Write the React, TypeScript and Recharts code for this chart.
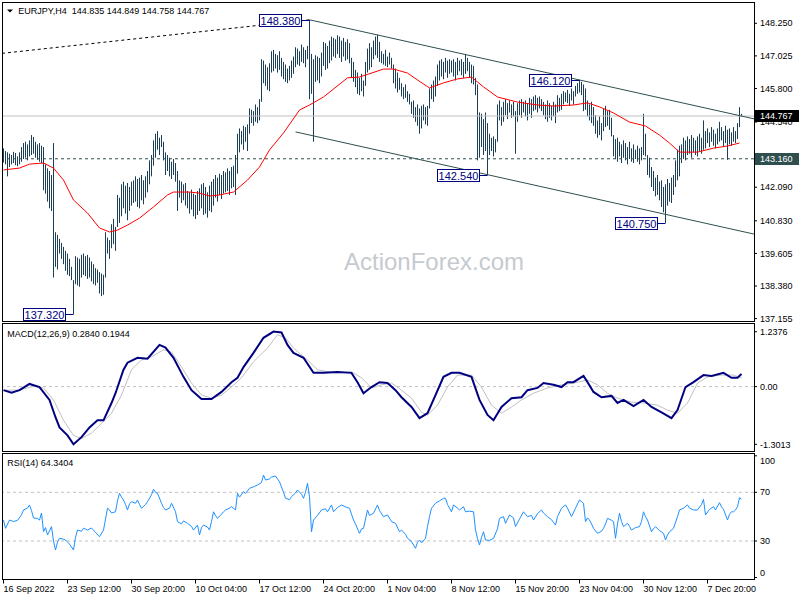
import { Bar, ComposedChart, Line, ReferenceDot, ReferenceLine, XAxis, YAxis } from 'recharts';

const FONT = '"Liberation Sans", Arial, sans-serif';

// H4 bars, index 0 = 16 Sep 2022 04:00
const barHigh = [
  143.55, 143.45, 143.4, 143.35, 143.3, 143.42, 143.38, 143.25, 143.4, 143.6,
  143.75, 143.8, 143.7, 143.85, 144.05, 143.98, 143.8, 143.7, 143.75, 143.65,
  143.6, 142.95, 142.8, 142.7, 142.55, 143.75, 140.4, 140.3, 140.15, 140.0,
  139.85, 139.7, 139.6, 139.4, 139.1, 138.6, 139.5, 139.45, 139.4, 139.55,
  139.6, 139.5, 139.55, 139.45, 139.3, 139.2, 139.05, 139.0, 138.9, 138.85,
  138.8, 140.4, 140.2, 140.1, 140.7, 140.9, 140.6, 141.8, 141.7, 142.2,
  142.3, 142.15, 142.25, 142.1, 142.3, 142.35, 142.5, 142.4, 142.45, 142.55,
  142.35, 142.5, 142.7, 143.1, 143.3, 143.85, 144.1, 144.2, 143.95, 144.05,
  143.8, 143.4, 143.3, 143.2, 143.05, 143.15, 143.0, 142.7, 142.35, 142.3,
  142.2, 142.25, 141.95, 141.9, 142.0, 141.85, 141.8, 141.95, 142.05, 142.2,
  142.25, 142.1, 141.9, 142.15, 142.3, 142.4, 142.55, 142.45, 142.6, 142.55,
  142.7, 142.65, 142.8, 142.7, 142.85, 142.9, 143.3, 144.1, 144.3, 144.2,
  144.4, 144.35, 144.45, 145.05, 145.0, 144.95, 145.2, 145.1, 145.4, 146.9,
  146.85, 146.7, 146.6, 146.75, 147.2, 147.25, 147.1, 147.05, 147.2, 146.95,
  146.8, 146.7, 146.55, 146.65, 146.85, 147.0, 147.35, 147.3, 147.2, 147.45,
  147.35, 147.25, 147.4, 148.38, 147.1, 146.9, 147.05, 147.0, 146.95, 147.15,
  147.55, 147.5, 147.4, 147.6, 147.75, 147.7, 147.65, 147.8, 147.75, 147.6,
  147.7, 147.55, 147.65, 147.5, 146.95, 146.8, 146.5, 146.4, 146.2, 146.35,
  146.1, 146.8, 147.3, 147.5, 147.35, 147.6, 147.75, 147.82, 147.55, 147.2,
  147.1, 147.25, 147.0, 147.15, 146.95, 146.7, 146.55, 146.4, 146.2, 146.0,
  145.85, 145.95, 145.7, 145.6, 145.3, 145.35, 145.1, 145.2, 145.05, 145.15,
  145.2, 145.1, 145.15, 145.8, 145.95, 146.1, 146.25, 146.7, 146.85, 146.9,
  146.8, 146.95, 146.85, 146.9, 146.85, 146.9, 146.8, 146.95, 146.85, 146.9,
  146.8, 147.1, 146.95, 146.8, 146.7, 146.65, 146.2, 145.95, 144.9, 144.85,
  144.65, 144.9, 144.5, 144.1, 143.95, 144.0, 143.9, 145.2, 145.35, 145.1,
  145.3, 145.4, 145.25, 145.35, 145.2, 145.3, 144.95, 145.25, 145.35, 145.4,
  145.3, 145.35, 145.25, 145.45, 145.4, 145.5, 145.55, 145.45, 145.5, 145.4,
  145.3, 145.2, 145.35, 145.25, 145.15, 145.3, 145.2, 145.55, 145.45, 145.6,
  145.7, 145.65, 145.75, 145.6, 145.8, 145.7, 145.9, 146.0, 146.12, 146.05,
  145.95, 145.8, 145.35, 145.2, 145.3, 145.1, 144.8, 144.6, 144.75, 144.5,
  145.05, 145.15, 144.95, 145.0, 144.7, 144.05, 143.9, 143.95, 143.8, 143.7,
  143.85, 143.75, 143.6, 143.8, 143.55, 143.7, 143.5, 143.65, 143.55, 143.6,
  144.85, 144.1, 143.3, 143.2, 142.85, 142.7, 142.45, 142.55, 142.3, 142.35,
  142.1, 142.2, 142.4, 142.25, 142.45, 142.55, 143.1, 143.5, 143.65, 143.7,
  143.95, 143.85, 144.0, 143.9, 144.05, 143.95, 143.85, 144.0, 144.1, 143.95,
  144.6, 144.2, 144.3, 144.15, 144.35, 144.25, 144.1, 144.3, 144.55, 144.35,
  144.2, 144.4, 144.25, 144.3, 144.15, 144.35, 144.2, 144.5, 145.1, 144.849,
];

const barLow = [
  143.02, 142.95, 142.5, 142.85, 142.95, 143.0, 142.92, 142.88, 142.95, 143.05,
  143.15, 143.2, 143.1, 143.25, 143.3, 143.35, 143.2, 143.12, 143.05, 143.0,
  141.98, 141.85, 141.55, 141.3, 141.2, 138.7, 139.1, 139.0, 139.6, 139.4,
  139.2, 138.95, 138.8, 138.75, 138.6, 137.32, 138.45, 138.4, 138.35, 138.7,
  138.8, 138.75, 138.65, 138.7, 138.55, 138.45, 138.4, 138.5, 138.1, 138.0,
  138.05, 138.7, 139.6, 139.4, 139.8, 139.95, 139.7, 140.6, 140.75, 141.0,
  141.3, 141.1, 140.85, 141.2, 141.4, 141.5, 141.55, 141.35, 141.3, 141.6,
  141.45, 141.7, 141.9, 142.2, 142.5, 142.9, 143.2, 143.5, 143.3, 143.6,
  143.1, 142.55, 142.7, 142.5, 142.4, 142.55, 142.3, 141.2, 141.7, 141.5,
  141.6, 141.4, 141.3, 141.1, 141.25, 141.0, 140.9, 141.05, 141.2, 141.3,
  141.05, 141.1, 140.95, 141.2, 141.15, 141.4, 141.7, 141.55, 141.8, 141.65,
  141.85, 141.9, 141.95, 141.8, 142.05, 142.1, 141.8, 142.6, 143.4, 143.7,
  143.5, 143.8, 143.45, 144.1, 144.5, 144.4, 144.55, 144.5, 144.6, 145.3,
  146.0, 145.9, 145.75, 145.7, 146.4, 146.45, 146.55, 146.4, 146.5, 146.25,
  146.15, 146.05, 146.0, 146.1, 146.2, 146.35, 146.6, 146.7, 146.65, 146.8,
  146.75, 146.6, 146.9, 145.4, 145.6, 143.8, 146.05, 146.1, 146.0, 146.25,
  146.65, 146.5, 146.55, 146.75, 146.85, 147.0, 146.95, 147.1, 146.95, 146.8,
  147.0, 146.85, 146.9, 146.75, 146.2, 146.05, 145.85, 145.6, 145.55, 145.7,
  145.5, 145.9, 146.4, 146.5, 146.6, 146.9, 147.05, 146.95, 146.8, 146.75,
  146.7, 146.65, 146.6, 146.7, 146.55, 146.0, 145.8, 145.65, 145.75, 145.5,
  145.4, 145.45, 145.3, 145.2, 144.85, 144.7, 144.55, 144.4, 144.1, 144.3,
  144.6, 144.45, 144.4, 145.05, 145.4, 145.3, 145.5, 145.9, 146.1, 146.25,
  146.15, 146.4, 146.2, 146.35, 146.4, 146.25, 146.1, 146.3, 146.45, 146.3,
  146.2, 146.35, 146.45, 146.2, 146.0, 145.95, 145.55, 143.1, 143.2, 143.6,
  143.3, 143.45, 142.54, 143.3, 143.45, 143.25, 143.4, 143.8, 144.6, 144.4,
  144.55, 144.8, 144.65, 144.9, 144.7, 144.75, 143.35, 144.55, 144.8, 144.7,
  144.9, 144.75, 144.6, 144.85, 144.7, 144.95, 145.0, 144.9, 145.05, 144.95,
  144.8, 144.65, 144.55, 144.7, 144.6, 144.75, 144.5, 144.9, 144.95, 145.0,
  145.2, 145.3, 145.25, 145.15, 145.35, 145.2, 145.5, 145.6, 145.65, 145.55,
  144.95, 145.0, 144.75, 144.6, 144.5, 144.4, 144.1, 143.95, 144.05, 143.85,
  144.2, 144.35, 144.4, 144.25, 144.0, 143.25, 143.15, 143.05, 143.25, 143.0,
  143.2, 143.1, 142.95, 143.15, 143.05, 143.0, 143.15, 143.05, 142.95, 143.1,
  143.3, 143.25, 142.55, 142.45, 142.1, 141.95, 141.75, 141.8, 141.6, 141.35,
  141.15, 140.75, 141.4, 141.55, 141.5, 141.8, 142.1, 142.35, 142.5, 143.0,
  143.15, 143.1, 143.3, 143.35, 143.2, 143.4, 143.3, 143.25, 143.45, 143.35,
  143.5, 143.55, 143.75, 143.6, 143.8, 143.65, 143.55, 143.7, 143.8, 143.85,
  143.6, 143.75, 143.12, 143.7, 143.65, 143.8, 143.75, 143.9, 144.35, 144.758,
];

// [bar, value] pairs
const maPoints: [number, number][] = [
  [0, 142.74], [8, 142.81], [13, 142.96], [20, 143.0], [25, 142.81], [30, 142.36], [35, 141.61],
  [42, 141.12], [48, 140.56], [53, 140.41], [57, 140.48], [62, 140.67], [68, 140.93], [75, 141.35],
  [82, 141.8], [85, 141.91], [93, 141.91], [98, 141.87], [103, 141.76], [108, 141.8], [115, 141.91],
  [122, 142.36], [128, 142.85], [133, 143.49], [140, 144.13], [148, 144.99], [153, 145.18],
  [160, 145.48], [172, 146.2], [178, 146.23], [190, 146.53], [195, 146.53], [202, 146.38],
  [207, 146.12], [213, 145.82], [220, 146.01], [227, 146.16], [234, 146.23], [240, 145.86],
  [247, 145.48], [257, 145.29], [267, 145.18], [275, 145.14], [285, 145.18], [292, 145.26],
  [298, 145.11], [305, 144.88], [313, 144.54], [321, 144.39], [328, 144.05], [333, 143.75],
  [338, 143.41], [347, 143.41], [355, 143.56], [362, 143.64], [368, 143.75],
];

const macdPoints: [number, number][] = [
  [0, -0.08], [4, -0.14], [8, -0.08], [13, 0.06], [18, -0.01], [23, -0.3], [26, -0.69], [28, -0.92],
  [32, -1.1], [35, -1.3], [39, -1.14], [43, -0.92], [47, -0.76], [50, -0.76], [54, -0.37], [56, -0.15],
  [60, 0.38], [62, 0.54], [67, 0.65], [72, 0.63], [78, 0.94], [81, 0.88], [85, 0.65], [90, 0.22],
  [94, -0.08], [99, -0.28], [104, -0.28], [109, -0.12], [114, 0.1], [117, 0.2], [120, 0.44],
  [125, 0.76], [130, 1.1], [135, 1.24], [139, 1.22], [142, 0.94], [145, 0.76], [150, 0.65],
  [155, 0.31], [160, 0.31], [167, 0.33], [174, 0.31], [177, 0.1], [180, -0.15], [184, -0.01],
  [188, 0.1], [192, 0.08], [196, -0.08], [199, -0.24], [204, -0.46], [208, -0.71], [212, -0.6],
  [216, -0.19], [220, 0.22], [224, 0.31], [228, 0.31], [234, 0.22], [238, -0.3], [242, -0.64],
  [245, -0.76], [249, -0.46], [254, -0.26], [259, -0.24], [262, -0.08], [267, -0.03], [270, 0.08],
  [275, 0.04], [279, -0.01], [282, 0.1], [285, 0.1], [290, 0.24], [292, 0.1], [295, -0.12],
  [299, -0.24], [304, -0.21], [307, -0.37], [310, -0.3], [315, -0.44], [320, -0.3], [324, -0.46],
  [329, -0.58], [334, -0.71], [337, -0.53], [341, -0.01], [345, 0.1], [350, 0.26], [354, 0.24],
  [360, 0.31], [364, 0.2], [367, 0.2], [369, 0.284],
];

const signalPoints: [number, number][] = [
  [0, -0.08], [8, -0.08], [15, 0.01], [20, -0.03], [25, -0.3], [30, -0.76], [35, -1.1], [39, -1.17],
  [44, -1.05], [49, -0.83], [54, -0.6], [59, -0.19], [64, 0.38], [69, 0.6], [74, 0.67], [80, 0.83],
  [84, 0.78], [89, 0.44], [94, 0.08], [99, -0.19], [104, -0.26], [109, -0.19], [114, -0.01],
  [119, 0.2], [125, 0.56], [132, 0.87], [137, 1.17], [141, 1.1], [145, 0.87], [152, 0.6],
  [157, 0.38], [165, 0.31], [174, 0.33], [179, 0.2], [184, -0.03], [189, 0.04], [194, 0.08],
  [199, -0.08], [204, -0.26], [209, -0.58], [212, -0.64], [217, -0.42], [222, -0.01], [227, 0.26],
  [234, 0.26], [239, -0.01], [244, -0.42], [249, -0.6], [254, -0.46], [259, -0.3], [265, -0.15],
  [272, -0.03], [279, 0.04], [285, 0.08], [292, 0.15], [297, 0.04], [302, -0.15], [307, -0.26],
  [314, -0.35], [320, -0.37], [327, -0.42], [332, -0.53], [337, -0.6], [342, -0.37], [347, 0.08],
  [352, 0.22], [359, 0.26], [365, 0.26], [369, 0.194],
];

const rsiPoints: [number, number][] = [
  [0, 47.2], [1, 40.4], [3, 47.2], [5, 46.0], [7, 47.0], [9, 51.5], [10, 55.5], [12, 57.0], [13, 59.6],
  [14, 55.0], [15, 48.9], [17, 48.5], [18, 47.2], [19, 53.0], [20, 37.6], [21, 41.0], [22, 35.0],
  [24, 41.8], [25, 30.0], [26, 22.6], [27, 29.0], [28, 32.2], [30, 31.5], [31, 30.8], [33, 27.5],
  [35, 22.6], [36, 33.0], [37, 39.0], [39, 38.0], [40, 40.5], [42, 39.0], [44, 40.7], [46, 37.0],
  [48, 33.5], [50, 39.0], [51, 48.0], [52, 57.0], [53, 55.5], [54, 53.0], [56, 54.0], [57, 63.0],
  [58, 69.2], [59, 66.0], [60, 63.7], [61, 60.0], [62, 55.5], [63, 60.5], [64, 62.3], [66, 61.0],
  [67, 63.7], [68, 60.0], [69, 56.9], [71, 60.0], [72, 62.3], [74, 68.0], [75, 72.5], [76, 70.0],
  [77, 69.2], [79, 61.0], [80, 57.5], [81, 55.5], [83, 57.0], [84, 61.0], [86, 54.0], [87, 45.9],
  [89, 44.0], [90, 46.5], [92, 44.5], [94, 42.0], [95, 39.0], [97, 43.1], [98, 35.0], [99, 41.0],
  [100, 43.1], [102, 41.5], [103, 39.0], [104, 46.0], [105, 54.0], [106, 51.0], [107, 48.6],
  [109, 52.0], [110, 54.0], [111, 55.5], [113, 57.0], [114, 58.2], [116, 55.5], [117, 69.2],
  [118, 66.0], [120, 70.5], [121, 69.0], [123, 73.3], [125, 74.5], [127, 76.0], [129, 78.0],
  [130, 84.2], [131, 80.1], [133, 81.0], [134, 82.5], [136, 83.4], [137, 81.0], [138, 78.7],
  [140, 70.0], [141, 65.1], [143, 64.0], [144, 66.4], [146, 69.5], [147, 71.9], [149, 68.5],
  [150, 65.1], [151, 70.0], [152, 77.4], [153, 66.4], [154, 37.6], [155, 47.2], [157, 51.0],
  [159, 55.5], [161, 56.5], [162, 54.0], [164, 59.6], [165, 54.0], [167, 57.5], [169, 59.6],
  [171, 58.0], [173, 56.9], [175, 47.2], [176, 44.0], [178, 36.3], [179, 40.0], [180, 40.4],
  [182, 55.5], [183, 51.0], [185, 52.8], [187, 59.6], [188, 55.0], [190, 50.0], [192, 51.4],
  [194, 45.9], [196, 44.5], [198, 37.6], [199, 39.0], [201, 35.5], [202, 32.2], [204, 29.5],
  [206, 24.0], [207, 29.0], [208, 30.8], [209, 28.5], [211, 32.2], [212, 41.8], [213, 50.0],
  [214, 56.9], [216, 61.0], [218, 63.0], [220, 65.1], [221, 65.1], [222, 60.0], [224, 54.0],
  [225, 59.6], [227, 57.0], [228, 55.5], [230, 58.2], [231, 54.0], [233, 54.5], [235, 54.0],
  [236, 39.0], [237, 32.0], [238, 26.7], [239, 33.0], [240, 37.6], [241, 30.8], [243, 30.5],
  [245, 32.2], [247, 40.0], [248, 48.6], [250, 50.0], [251, 44.5], [253, 51.4], [255, 49.0],
  [256, 41.8], [258, 48.0], [260, 54.0], [261, 52.0], [262, 50.0], [264, 51.0], [265, 47.2],
  [267, 52.5], [269, 55.5], [270, 53.0], [272, 50.0], [274, 47.5], [276, 43.1], [277, 50.0],
  [279, 56.9], [281, 59.6], [282, 57.0], [284, 50.0], [286, 57.0], [288, 63.7], [290, 61.0],
  [291, 45.9], [292, 49.0], [293, 47.2], [294, 44.0], [295, 40.4], [297, 36.3], [299, 38.0],
  [300, 40.4], [301, 44.0], [302, 48.6], [304, 47.0], [305, 45.9], [306, 32.2], [307, 44.0],
  [308, 52.8], [309, 46.0], [310, 41.8], [312, 44.5], [313, 42.0], [314, 39.0], [316, 41.0],
  [318, 41.8], [319, 46.0], [320, 54.0], [321, 50.0], [322, 47.2], [324, 37.6], [325, 40.0],
  [326, 41.8], [328, 38.5], [330, 36.3], [331, 30.8], [332, 35.0], [333, 37.6], [335, 40.4],
  [337, 50.0], [338, 55.5], [340, 56.9], [342, 59.6], [343, 57.0], [345, 55.5], [347, 55.5],
  [349, 60.0], [350, 64.2], [351, 51.4], [353, 56.0], [355, 58.2], [356, 55.5], [358, 61.5],
  [359, 58.0], [360, 56.0], [362, 47.2], [363, 52.0], [364, 54.0], [365, 54.0], [366, 55.5],
  [367, 58.2], [368, 65.6], [369, 64.3],
];

// 143.3xx tick sits fully under the 143.160 tag in the picture, so it is left out
const priceTicks = [148.25, 147.025, 145.8, 144.54, 142.09, 140.83, 139.605, 138.38, 137.155];
const macdTicks = [1.2376, 0, -1.3013];
const rsiTicks = [0, 30, 70, 100];
const rsiLevels = [30, 70];
const timeTicks = [0, 32, 64, 96, 128, 160, 192, 224, 256, 288, 320, 352];
const timeLabels = [
  '16 Sep 2022', '23 Sep 12:00', '30 Sep 20:00', '10 Oct 04:00', '17 Oct 12:00', '24 Oct 20:00',
  '1 Nov 04:00', '8 Nov 12:00', '15 Nov 20:00', '23 Nov 04:00', '30 Nov 12:00', '7 Dec 20:00',
];

const swingBars = [153, 288, 242, 331, 35];
const swingPrices = [148.38, 146.12, 142.54, 140.75, 137.32];
const lastPrice = 144.767;
const supportPrice = 143.16;
const upperChannel: [number, number][] = [[153, 148.38], [375.25, 144.66]];
const lowerChannel: [number, number][] = [[146, 144.17], [375.25, 140.33]];
const longTrend: [number, number][] = [[-0.75, 147.12], [153, 148.38]];

const X_DOMAIN: [number, number] = [-0.75, 375.25];
const PRICE_DOMAIN: [number, number] = [137.065, 149.012];
const BAR_COLOR = '#1c3f58';
const SLATE = '#2f4f4f';
const NAVY = '#000080';

const priceRows = barHigh.map((h, i) => ({ i, hl: [barLow[i], h] }));
const toRows = (pts: [number, number][]) => pts.map(([i, v]) => ({ i, v }));

const tickStyle = { fontSize: 9, fill: '#000', fontFamily: FONT };

// one crisp pixel column per H4 bar
function HlBar(props: any) {
  const { x, y, width, height } = props;
  if (height == null || isNaN(y)) return null;
  return <rect x={Math.floor(x + width / 2)} y={y} width={1} height={Math.max(1, height)} fill={BAR_COLOR} />;
}

function swingShape(text: string) {
  return (props: any) => {
    const cx = props.cx;
    const cy = Math.round(props.cy) + 0.5;
    const right = Math.round(cx - 9) + 0.5;
    return (
      <g>
        <line x1={right} y1={cy} x2={cx} y2={cy} stroke={NAVY} />
        <rect x={right - 42} y={cy - 6} width={42} height={12} fill="#fff" stroke={NAVY} />
        <text x={right - 21} y={cy + 0.5} textAnchor="middle" dominantBaseline="central" fontSize={11} fill={NAVY} fontFamily={FONT}>
          {text}
        </text>
      </g>
    );
  };
}

function axisTag(text: string, bg: string) {
  return (props: any) => {
    const vb = props.viewBox;
    const y = Math.round(vb.y);
    const x = vb.x + vb.width + 1;
    return (
      <g>
        <rect x={x} y={y - 6} width={44} height={12} fill={bg} />
        <text x={x + 5} y={y} dominantBaseline="central" fontSize={9} fill="#fff" fontFamily={FONT}>
          {text}
        </text>
      </g>
    );
  };
}

function RsiTick(props: any) {
  const { x, y, payload } = props;
  const v = payload.value;
  const dy = v === 100 ? 5 : v === 0 ? -5 : 0;
  return (
    <text x={x} y={y + dy} dominantBaseline="central" {...tickStyle}>
      {v}
    </text>
  );
}

function TimeTick(props: any) {
  const { x, y, payload } = props;
  const label = timeLabels[timeTicks.indexOf(payload.value)];
  return (
    <g>
      <line x1={x} y1={y + 2} x2={x} y2={y + 6} stroke="#000" />
      <text x={x} y={y + 11} dominantBaseline="central" {...tickStyle}>
        {label}
      </text>
    </g>
  );
}

function PriceChart() {
  return (
    <ComposedChart width={800} height={323} data={priceRows} margin={{ top: 3, right: 0, bottom: 2, left: 2 }}>
      <XAxis dataKey="i" type="number" domain={X_DOMAIN} allowDataOverflow hide />
      <YAxis
        orientation="right"
        width={46}
        domain={PRICE_DOMAIN}
        allowDataOverflow
        ticks={priceTicks}
        interval={0}
        axisLine={false}
        tickLine={{ stroke: '#000' }}
        tickSize={3}
        tickMargin={3}
        tick={tickStyle}
        tickFormatter={(v: number) => v.toFixed(3)}
      />
      <ReferenceLine y={lastPrice} stroke="#c0c0c0" />
      <ReferenceLine y={supportPrice} stroke={SLATE} strokeDasharray="3 3" />
      <ReferenceLine segment={longTrend.map(([x, y]) => ({ x, y }))} stroke="#000" strokeDasharray="3 3" ifOverflow="hidden" />
      <ReferenceLine segment={upperChannel.map(([x, y]) => ({ x, y }))} stroke={SLATE} ifOverflow="hidden" />
      <ReferenceLine segment={lowerChannel.map(([x, y]) => ({ x, y }))} stroke={SLATE} ifOverflow="hidden" />
      <Bar dataKey="hl" barSize={1} fill={BAR_COLOR} shape={<HlBar />} isAnimationActive={false} />
      <Line data={toRows(maPoints)} dataKey="v" stroke="#ff0000" strokeWidth={1} dot={false} activeDot={false} isAnimationActive={false} />
      {swingBars.map((b, k) => (
        <ReferenceDot key={b} x={b} y={swingPrices[k]} r={0} shape={swingShape(swingPrices[k].toFixed(3))} />
      ))}
    </ComposedChart>
  );
}

// price tags on the right axis, drawn above the axis labels
function TagLayer() {
  return (
    <ComposedChart width={800} height={323} data={priceRows} margin={{ top: 3, right: 46, bottom: 2, left: 2 }}>
      <XAxis dataKey="i" type="number" domain={X_DOMAIN} allowDataOverflow hide />
      <YAxis domain={PRICE_DOMAIN} allowDataOverflow hide />
      <ReferenceLine y={lastPrice} stroke="none" label={axisTag(lastPrice.toFixed(3), '#000')} />
      <ReferenceLine y={supportPrice} stroke="none" label={axisTag(supportPrice.toFixed(3), SLATE)} />
    </ComposedChart>
  );
}

function MacdChart() {
  return (
    <ComposedChart width={800} height={128} margin={{ top: 0, right: 0, bottom: 0, left: 2 }}>
      <XAxis dataKey="i" type="number" domain={X_DOMAIN} allowDataOverflow hide />
      <YAxis
        orientation="right"
        width={46}
        domain={[-1.452, 1.434]}
        allowDataOverflow
        ticks={macdTicks}
        interval={0}
        axisLine={false}
        tickLine={{ stroke: '#000' }}
        tickSize={3}
        tickMargin={3}
        tick={tickStyle}
        tickFormatter={(v: number) => (v === 0 ? '0.00' : v.toFixed(4))}
      />
      <ReferenceLine y={0} stroke="#c0c0c0" strokeDasharray="3 3" />
      <Line data={toRows(signalPoints)} dataKey="v" stroke="#c0c0c0" strokeWidth={1} dot={false} activeDot={false} isAnimationActive={false} />
      <Line data={toRows(macdPoints)} dataKey="v" stroke={NAVY} strokeWidth={2} dot={false} activeDot={false} isAnimationActive={false} />
    </ComposedChart>
  );
}

function RsiChart() {
  return (
    <ComposedChart width={800} height={150} margin={{ top: 5.8, right: 0, bottom: 2.5, left: 2 }}>
      <XAxis
        dataKey="i"
        type="number"
        domain={X_DOMAIN}
        allowDataOverflow
        ticks={timeTicks}
        interval={0}
        height={20}
        axisLine={false}
        tickLine={false}
        tickSize={0}
        tickMargin={0}
        tick={<TimeTick />}
      />
      <YAxis
        orientation="right"
        width={46}
        domain={[0, 100]}
        ticks={rsiTicks}
        interval={0}
        axisLine={false}
        tickLine={{ stroke: '#000' }}
        tickSize={3}
        tickMargin={3}
        tick={<RsiTick />}
      />
      {rsiLevels.map((lv) => (
        <ReferenceLine key={lv} y={lv} stroke="#c0c0c0" strokeDasharray="3 3" />
      ))}
      <Line data={toRows(rsiPoints)} dataKey="v" stroke="#1e90ff" strokeWidth={1} dot={false} activeDot={false} isAnimationActive={false} />
    </ComposedChart>
  );
}

export default function App() {
  return (
    <div style={{ position: 'absolute', left: 0, top: 0, width: 800, height: 600, background: '#fff', fontFamily: FONT }}>
      <svg width={800} height={600} style={{ position: 'absolute', left: 0, top: 0 }}>
        <text x={344} y={270} fontSize={24} fill="#c6cacf" fontFamily={FONT}>
          ActionForex.com
        </text>
      </svg>
      <div style={{ position: 'absolute', left: 0, top: 0 }}>
        <PriceChart />
      </div>
      <div style={{ position: 'absolute', left: 0, top: 0 }}>
        <TagLayer />
      </div>
      <div style={{ position: 'absolute', left: 0, top: 323 }}>
        <MacdChart />
      </div>
      <div style={{ position: 'absolute', left: 0, top: 450 }}>
        <RsiChart />
      </div>
      <svg width={800} height={600} style={{ position: 'absolute', left: 0, top: 0, pointerEvents: 'none' }}>
        <g fill="none" stroke="#000">
          <rect x={2.5} y={2.5} width={752} height={319} />
          <rect x={2.5} y={323.5} width={752} height={128} />
          <rect x={2.5} y={453.5} width={752} height={126} />
        </g>
        <polygon points="7,9.5 13,9.5 10,12.5" fill="#000" />
        <text x={18.3} y={11} dominantBaseline="central" fontSize={9} fill="#000" fontFamily={FONT} style={{ whiteSpace: 'pre' }}>
          {'EURJPY,H4  144.835 144.849 144.758 144.767'}
        </text>
        <text x={7.3} y={334} dominantBaseline="central" fontSize={9} fill="#000" fontFamily={FONT}>
          MACD(12,26,9) 0.2840 0.1944
        </text>
        <text x={7.3} y={462.7} dominantBaseline="central" fontSize={9} fill="#000" fontFamily={FONT}>
          RSI(14) 64.3404
        </text>
      </svg>
    </div>
  );
}
